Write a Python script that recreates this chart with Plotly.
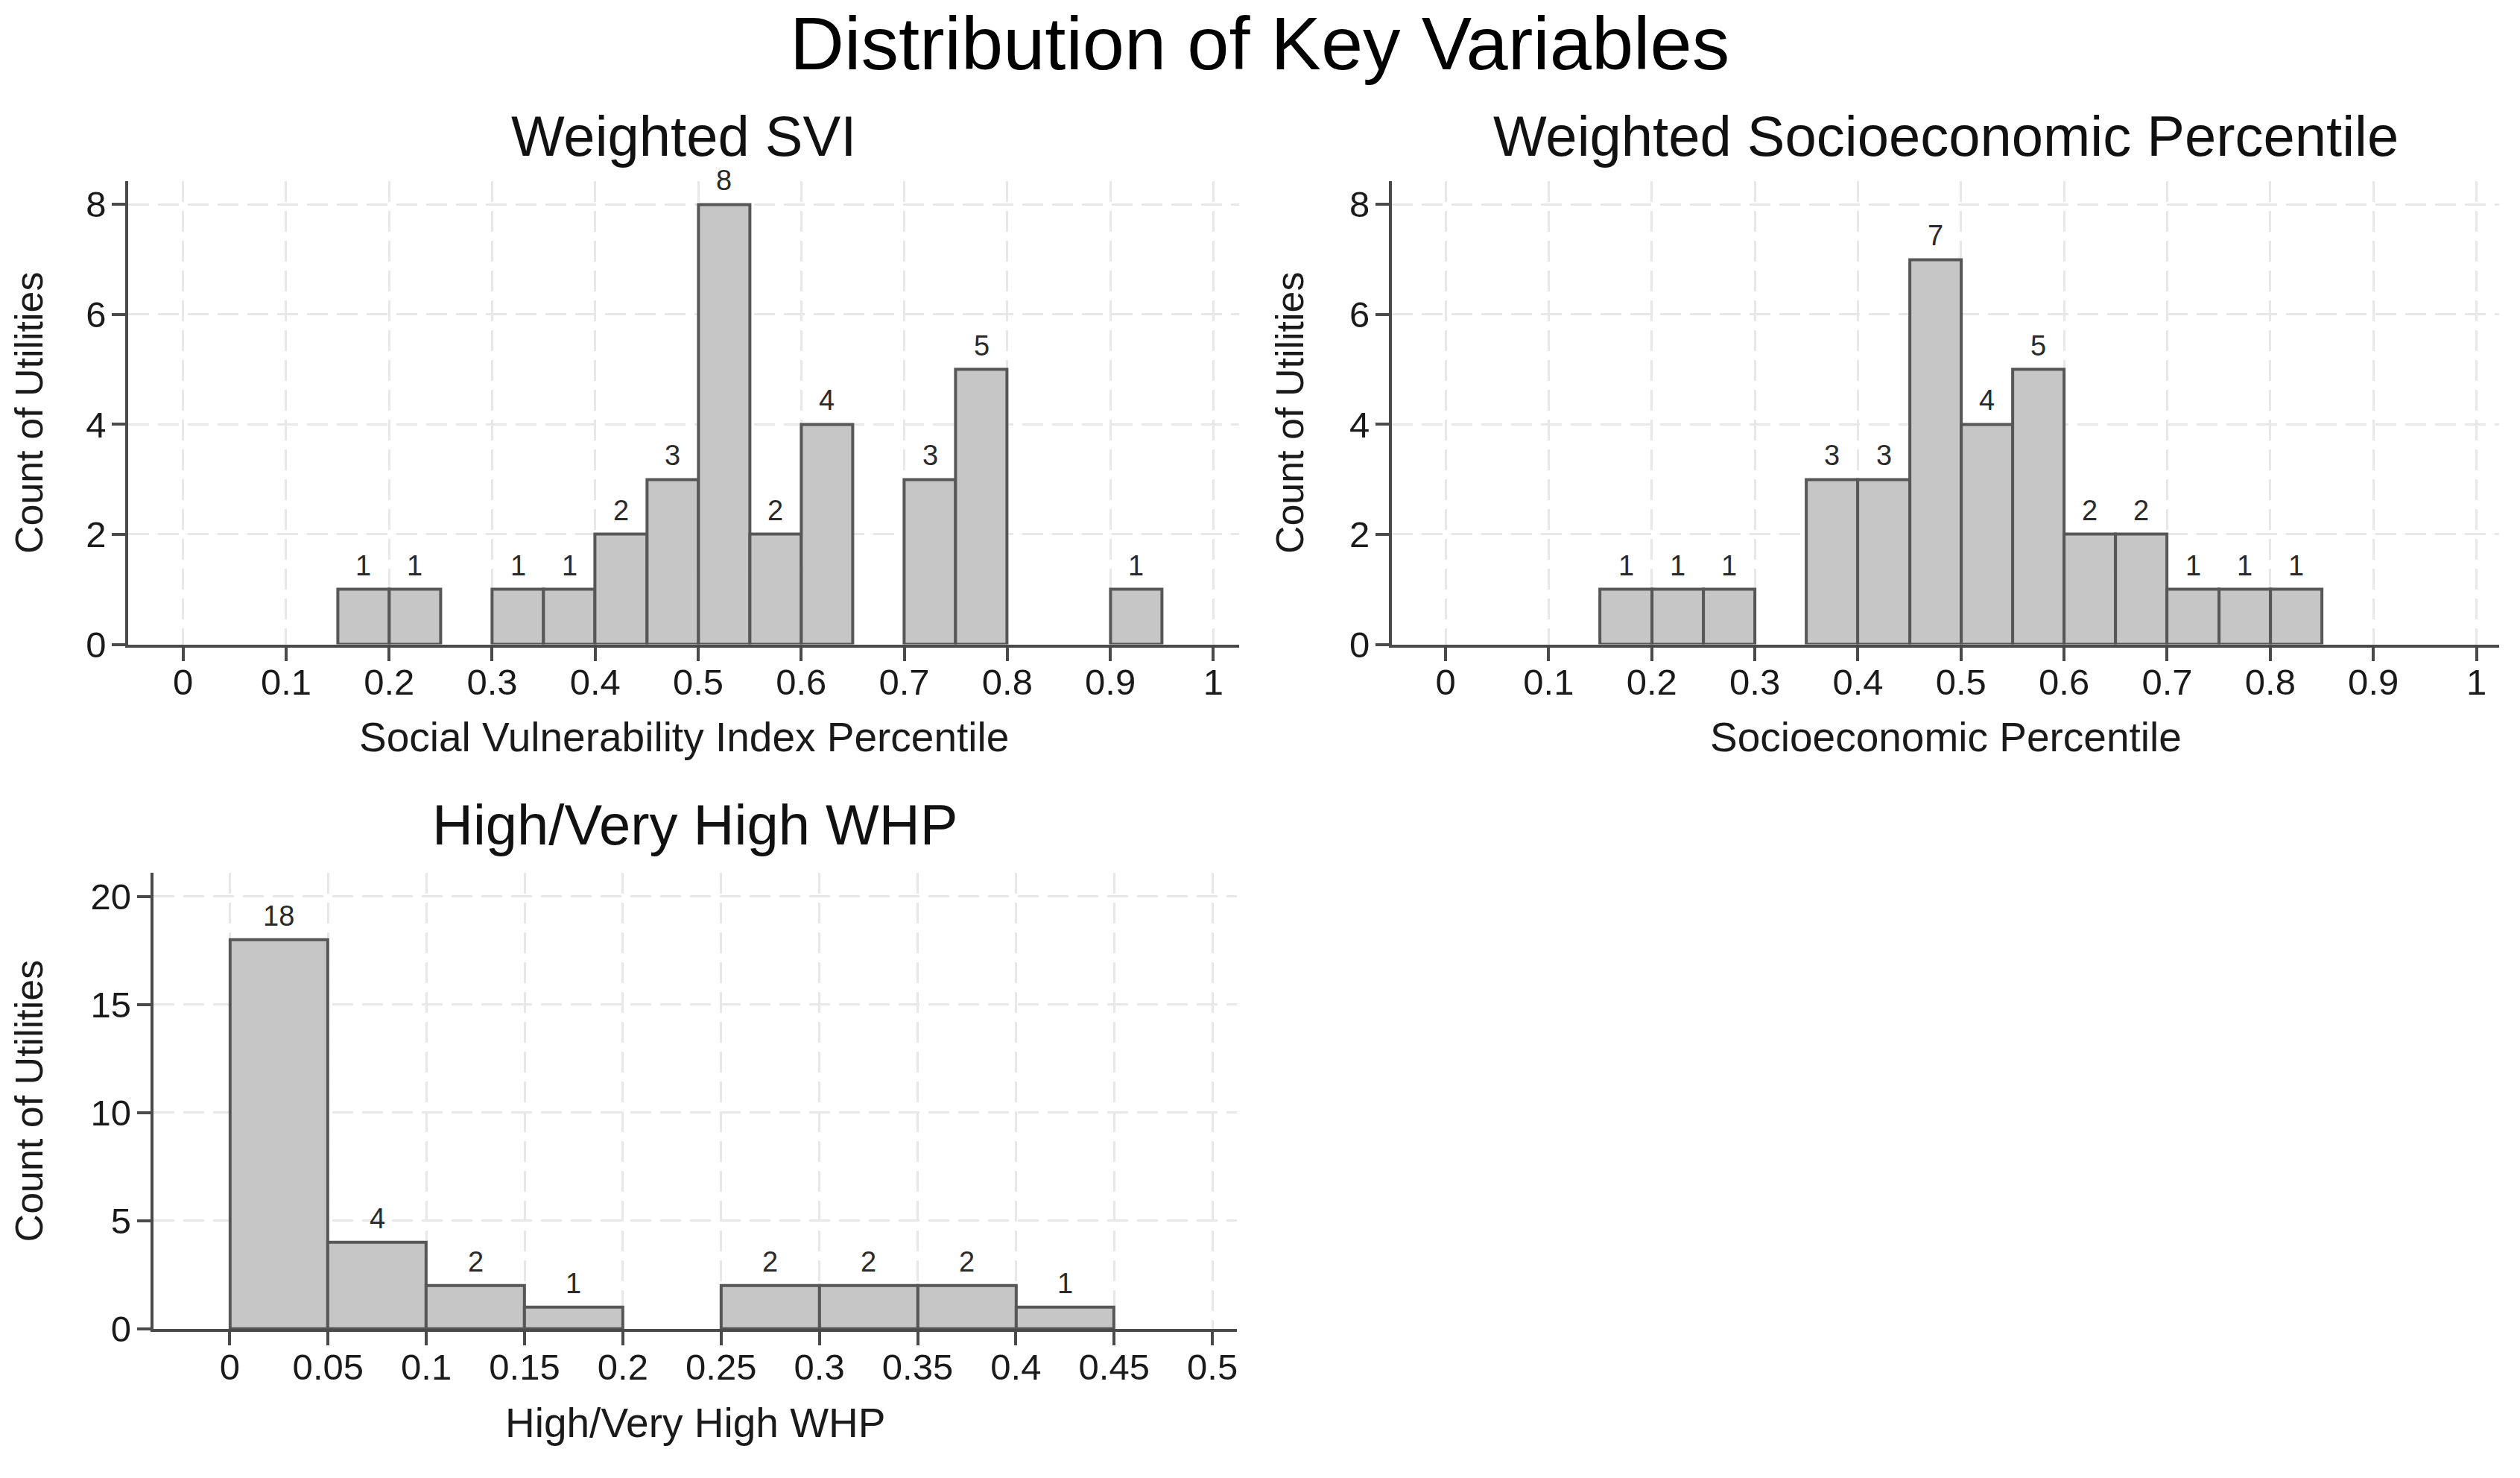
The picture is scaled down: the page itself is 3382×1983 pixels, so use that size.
import plotly.graph_objects as go

# ---------------- data ----------------
BIN_WIDTH = 0.05

svi_bin_left = [0.15, 0.20, 0.30, 0.35, 0.40, 0.45, 0.50, 0.55, 0.60, 0.70, 0.75, 0.90]
svi_counts = [1, 1, 1, 1, 2, 3, 8, 2, 4, 3, 5, 1]

soc_bin_left = [0.15, 0.20, 0.25, 0.35, 0.40, 0.45, 0.50, 0.55, 0.60, 0.65, 0.70, 0.75, 0.80]
soc_counts = [1, 1, 1, 3, 3, 7, 4, 5, 2, 2, 1, 1, 1]

whp_bin_left = [0.00, 0.05, 0.10, 0.15, 0.25, 0.30, 0.35, 0.40]
whp_counts = [18, 4, 2, 1, 2, 2, 2, 1]

pct_tick_vals = [0, 0.1, 0.2, 0.3, 0.4, 0.5, 0.6, 0.7, 0.8, 0.9, 1.0]
pct_tick_labels = ["0", "0.1", "0.2", "0.3", "0.4", "0.5", "0.6", "0.7", "0.8", "0.9", "1"]
whp_tick_vals = [0, 0.05, 0.10, 0.15, 0.20, 0.25, 0.30, 0.35, 0.40, 0.45, 0.50]
whp_tick_labels = ["0", "0.05", "0.1", "0.15", "0.2", "0.25", "0.3", "0.35", "0.4", "0.45", "0.5"]
count_ticks_pct = [0, 2, 4, 6, 8]
count_ticks_whp = [0, 5, 10, 15, 20]

main_title = "Distribution of Key Variables"
panel_titles = ["Weighted SVI", "Weighted Socioeconomic Percentile", "High/Very High WHP"]
x_titles = ["Social Vulnerability Index Percentile", "Socioeconomic Percentile", "High/Very High WHP"]
y_title = "Count of Utilities"

# ---------------- style ----------------
FONT = "Liberation Sans Narrow, Arial Narrow, Liberation Sans, Arial, sans-serif"
TXT = "#1a1a1a"
BAR_FILL = "#c6c6c6"
BAR_LINE = "#575757"
AXIS = "#4a4a4a"
GRID = "#e8e8e8"

panels = [
    dict(x=svi_bin_left, y=svi_counts, xd=[0.051, 0.492], yd=[0.558, 0.876],
         xr=[-0.053, 1.025], yr=[0, 8.43], xt=pct_tick_vals, xl=pct_tick_labels, yt=count_ticks_pct),
    dict(x=soc_bin_left, y=soc_counts, xd=[0.5527, 0.9923], yd=[0.558, 0.876],
         xr=[-0.052, 1.022], yr=[0, 8.43], xt=pct_tick_vals, xl=pct_tick_labels, yt=count_ticks_pct),
    dict(x=whp_bin_left, y=whp_counts, xd=[0.0609, 0.491], yd=[0.0885, 0.4014],
         xr=[-0.0389, 0.5123], yr=[0, 21.1], xt=whp_tick_vals, xl=whp_tick_labels, yt=count_ticks_whp),
]
subtitle_y = [0.9068, 0.9068, 0.4345]
xtitle_y = [0.4942, 0.4942, 0.0242]
ytitle_x = [0.0114, 0.512, 0.0114]

fig = go.Figure()
annotations = []
layout = {}
for i, p in enumerate(panels):
    n = "" if i == 0 else str(i + 1)
    fig.add_trace(go.Bar(
        x=p["x"], y=p["y"], width=BIN_WIDTH, offset=0,
        marker=dict(color=BAR_FILL, line=dict(color=BAR_LINE, width=4)),
        xaxis="x" + n, yaxis="y" + n, showlegend=False, hoverinfo="skip",
    ))
    for xl, c in zip(p["x"], p["y"]):
        annotations.append(dict(
            x=xl + BIN_WIDTH / 2, y=c, xref="x" + n, yref="y" + n, text=str(c),
            showarrow=False, yanchor="bottom", yshift=9,
            font=dict(family=FONT, size=38, color="#2a2a2a"),
        ))
    layout["xaxis" + n] = dict(
        domain=p["xd"], range=p["xr"], anchor="y" + n,
        tickvals=p["xt"], ticktext=p["xl"], ticks="outside", ticklen=18, tickwidth=4,
        tickcolor=AXIS, showline=True, linecolor=AXIS, linewidth=4,
        showgrid=True, gridcolor=GRID, gridwidth=3, griddash="28px,12px",
        zeroline=False, ticklabelstandoff=-13,
        tickfont=dict(family=FONT, size=49, color=TXT), fixedrange=True,
    )
    layout["yaxis" + n] = dict(
        domain=p["yd"], range=p["yr"], anchor="x" + n,
        tickvals=p["yt"], ticks="outside", ticklen=18, tickwidth=4,
        tickcolor=AXIS, showline=True, linecolor=AXIS, linewidth=4,
        showgrid=True, gridcolor=GRID, gridwidth=3, griddash="28px,12px",
        zeroline=False, ticklabelstandoff=-2,
        tickfont=dict(family=FONT, size=49, color=TXT), fixedrange=True,
    )
    xc = (p["xd"][0] + p["xd"][1]) / 2
    yc = (p["yd"][0] + p["yd"][1]) / 2
    annotations.append(dict(x=xc, y=subtitle_y[i], xref="paper", yref="paper", text=panel_titles[i],
                            showarrow=False, xanchor="center", yanchor="middle",
                            font=dict(family=FONT, size=76, color="#111111")))
    annotations.append(dict(x=xc, y=xtitle_y[i], xref="paper", yref="paper", text=x_titles[i],
                            showarrow=False, xanchor="center", yanchor="middle",
                            font=dict(family=FONT, size=55, color=TXT)))
    annotations.append(dict(x=ytitle_x[i], y=yc, xref="paper", yref="paper", text=y_title,
                            showarrow=False, xanchor="center", yanchor="middle", textangle=-90,
                            font=dict(family=FONT, size=52, color=TXT)))

annotations.append(dict(x=0.5, y=1.0, xref="paper", yref="paper", text=main_title,
                        showarrow=False, xanchor="center", yanchor="top",
                        font=dict(family=FONT, size=101, color="#000000")))

fig.update_layout(
    width=3382, height=1983,
    margin=dict(l=0, r=0, t=0, b=0),
    paper_bgcolor="white", plot_bgcolor="white",
    bargap=0, annotations=annotations, **layout,
)

post = (
    "document.body.style.margin='0';"
    "document.body.style.overflow='hidden';"
)
fig.write_html("out.html", config={"displayModeBar": False}, post_script=post)
